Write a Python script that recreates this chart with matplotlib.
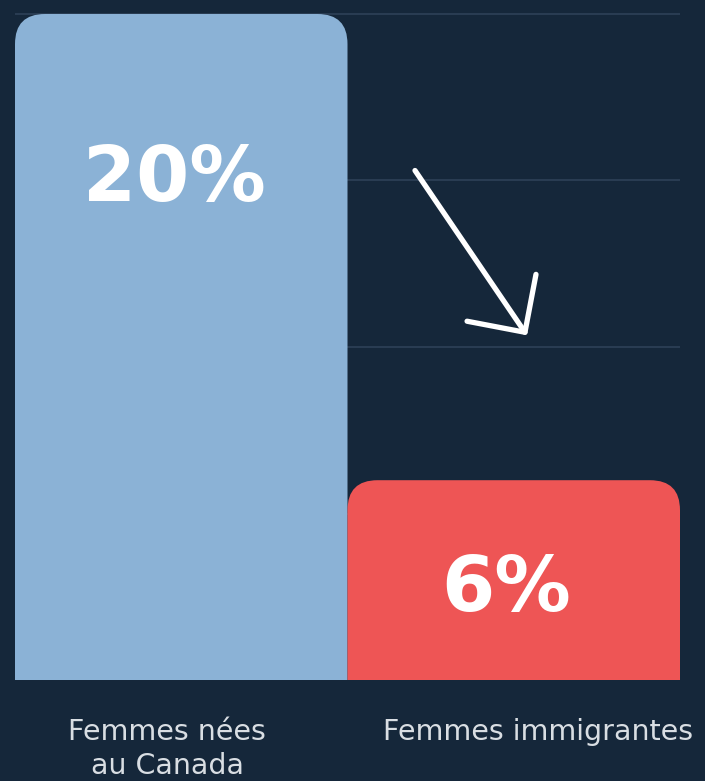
import matplotlib
matplotlib.use("Agg")
import matplotlib.pyplot as plt
from matplotlib.patches import FancyBboxPatch
from matplotlib.transforms import ScaledTranslation

categories = ["Femmes nées\nau Canada", "Femmes immigrantes"]
values = [20, 6]
value_labels = ["20%", "6%"]
colors = ["#8BB2D6", "#EE5555"]
grid_levels = [5, 10, 15, 20]

BG = "#15273A"
W, H = 705, 781
fig = plt.figure(figsize=(W / 100, H / 100), dpi=100, facecolor=BG)
ax = fig.add_axes([15 / W, 101 / H, 665 / W, 680 / H])
ax.set_facecolor(BG)
ax.set_xlim(-0.5, 1.5)
ax.set_ylim(0, 20 * 680 / 666)

for g in grid_levels:
    ax.axhline(g, color="#2E4157", lw=1.2, zorder=0)

bars = ax.bar(range(len(values)), values, width=1.0, color=colors, zorder=1)
px_x = 665 / 2.0
px_y = 680 / ax.get_ylim()[1]
aspect = px_x / px_y
r_px = 30
for b, c in zip(bars, colors):
    b.set_visible(False)
    x0, w, h = b.get_x(), b.get_width(), b.get_height()
    ext = 2.0
    p = FancyBboxPatch((x0, -ext), w, h + ext,
                       boxstyle=f"round,pad=0,rounding_size={r_px / px_x}",
                       mutation_aspect=aspect, facecolor=c, edgecolor="none",
                       zorder=2, clip_on=True)
    ax.add_patch(p)

label_y = [values[0] * 0.75, values[1] * 0.45]
for i, (v, t) in enumerate(zip(values, value_labels)):
    ax.text(i - 0.022, label_y[i], t, ha="center", va="center", color="white",
            fontsize=55, fontweight="bold", family="DejaVu Sans", zorder=3)

# arrow indicating decrease
ax.annotate("", xy=(1.04, 10.35), xytext=(0.703, 15.3),
            arrowprops=dict(arrowstyle="->,head_length=3.0,head_width=3.0",
                            color="white", lw=3.8, capstyle="round",
                            joinstyle="round", shrinkA=0, shrinkB=0), zorder=4)

ax.set_xticks(range(len(categories)))
ax.set_xticklabels(categories, color="#D9DEE3", fontsize=20.5,
                   family="DejaVu Sans", linespacing=1.3)
ax.tick_params(axis="x", length=0, pad=27)
offsets_px = [-14, 24]
for lbl, dx in zip(ax.get_xticklabels(), offsets_px):
    lbl.set_transform(lbl.get_transform() + ScaledTranslation(dx / 100, 0, fig.dpi_scale_trans))
ax.set_yticks([])
for s in ax.spines.values():
    s.set_visible(False)

fig.savefig("out.png", dpi=100, facecolor=BG)
